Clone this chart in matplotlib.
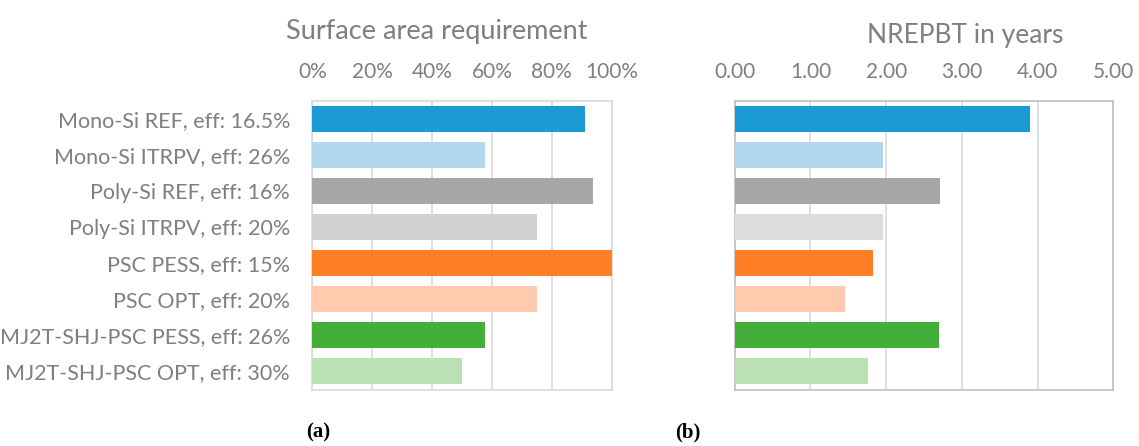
import matplotlib
matplotlib.use('Agg')
import matplotlib.pyplot as plt
from matplotlib.ticker import PercentFormatter, FormatStrFormatter

plt.rcParams['font.family'] = ['Lato', 'DejaVu Sans']

labels = ['Mono-Si REF, eff: 16.5%', 'Mono-Si ITRPV, eff: 26%', 'Poly-Si REF, eff: 16%',
          'Poly-Si ITRPV, eff: 20%', 'PSC PESS, eff: 15%', 'PSC OPT, eff: 20%',
          'MJ2T-SHJ-PSC PESS, eff: 26%', 'MJ2T-SHJ-PSC OPT, eff: 30%']
area = [0.91, 0.577, 0.9375, 0.75, 1.0, 0.75, 0.577, 0.50]
nrepbt = [3.90, 1.96, 2.71, 1.96, 1.83, 1.46, 2.70, 1.76]
colors_a = ['#1B9AD6', '#B3D7EF', '#A6A6A6', '#D1D1D0', '#FF7F27', '#FFCAAD', '#44AE3A', '#BBE0B3']
colors_b = ['#1B9AD6', '#B3D7EF', '#A6A6A6', '#DCDCDC', '#FF7F27', '#FFCAAD', '#44AE3A', '#BBE0B3']

txt = '#7F7F7F'
W, H = 1139, 446
fig = plt.figure(figsize=(W / 100, H / 100), dpi=100)

def px_axes(x0, x1, y0, y1):
    return fig.add_axes([x0 / W, 1 - y1 / H, (x1 - x0) / W, (y1 - y0) / H])

ax1 = px_axes(312.3, 611.7, 101, 390)
ax2 = px_axes(734.7, 1113.3, 101, 390)

ypos = list(range(len(labels)))
ax1.barh(ypos, area, height=0.72, color=colors_a, zorder=3)
ax2.barh(ypos, nrepbt, height=0.72, color=colors_b, zorder=3)

ax1.set_xlim(0, 1)
ax1.set_xticks([0, 0.2, 0.4, 0.6, 0.8, 1.0])
ax1.xaxis.set_major_formatter(PercentFormatter(1.0, decimals=0))
ax2.set_xlim(0, 5)
ax2.set_xticks([0, 1, 2, 3, 4, 5])
ax2.xaxis.set_major_formatter(FormatStrFormatter('%.2f'))

for ax, edge in ((ax1, '#D9D9D9'), (ax2, '#BFBFBF')):
    ax.set_ylim(7.53, -0.5)
    ax.xaxis.tick_top()
    ax.tick_params(axis='x', length=0, pad=14, labelsize=15, labelcolor=txt)
    ax.tick_params(axis='y', length=0, pad=16, labelsize=15.5, labelcolor=txt)
    ax.grid(axis='x', color='#D9D9D9', linewidth=1.2, zorder=0)
    for s in ax.spines.values():
        s.set_color(edge)
        s.set_linewidth(1.2)

ax1.set_yticks(ypos)
ax1.set_yticklabels(labels)
ax2.set_yticks([])

fig.text(437 / W, 1 - 31 / H, 'Surface area requirement', ha='center', va='center', fontsize=19.5, color=txt)
fig.text(965 / W, 1 - 36 / H, 'NREPBT in years', ha='center', va='center', fontsize=19, color=txt)

fig.text(318 / W, 1 - 432 / H, '(a)', ha='center', va='center', fontsize=15,
         family='Liberation Serif', weight='bold', color='black')
fig.text(688 / W, 1 - 432 / H, '(b)', ha='center', va='center', fontsize=15,
         family='Liberation Serif', weight='bold', color='black')

fig.savefig('out.png', dpi=100)
